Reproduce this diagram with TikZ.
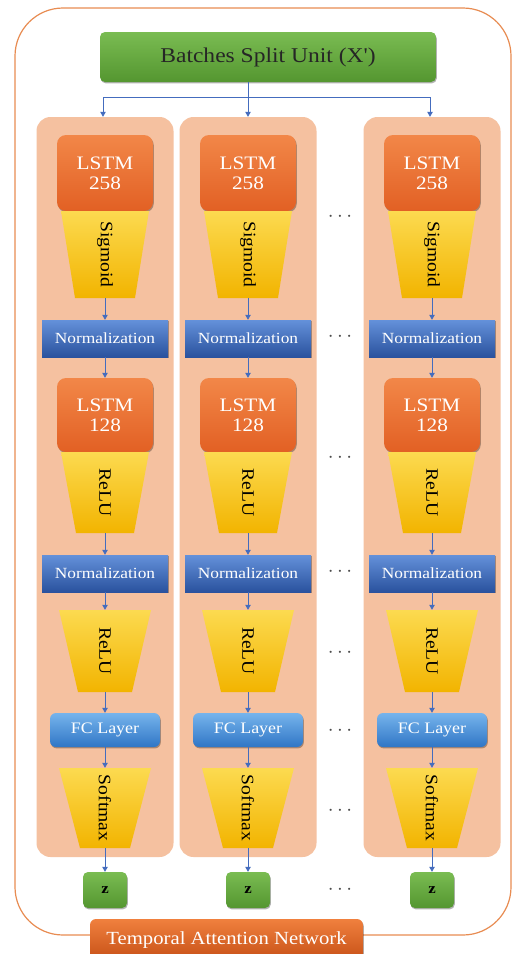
\documentclass[tikz,border=0pt]{standalone}
\usepackage{fontspec}
\setmainfont{Liberation Serif}[FakeStretch=1.12]
\usepackage{graphicx}
\usetikzlibrary{arrows.meta,shadows}
\definecolor{peach}{RGB}{245,193,160}
\definecolor{outerline}{RGB}{232,140,82}
\definecolor{greenT}{RGB}{122,188,82}
\definecolor{greenB}{RGB}{84,150,48}
\definecolor{lstmT}{RGB}{242,135,72}
\definecolor{lstmB}{RGB}{226,96,36}
\definecolor{yelT}{RGB}{252,218,80}
\definecolor{yelB}{RGB}{242,180,0}
\definecolor{normT}{RGB}{100,145,218}
\definecolor{normB}{RGB}{42,82,158}
\definecolor{fcT}{RGB}{118,180,236}
\definecolor{fcB}{RGB}{48,118,198}
\definecolor{arrowblue}{RGB}{68,108,190}
\definecolor{tanT}{RGB}{240,128,62}
\definecolor{tanB}{RGB}{198,80,22}
\begin{document}
\begin{tikzpicture}[x=1pt,y=-1pt,
  shad/.style={drop shadow={shadow xshift=0.8pt,shadow yshift=-1.4pt,opacity=0.3,fill=black}},
  panel/.style={fill=peach,rounded corners=14pt,minimum width=137pt,minimum height=740pt,inner sep=0pt},
  splitbox/.style={shad,rounded corners=5pt,top color=greenT,bottom color=greenB,minimum width=336pt,minimum height=50pt,inner sep=0pt,text=black!85,font=\fontsize{21}{24}\selectfont},
  lstm/.style={shad,rounded corners=9pt,top color=lstmT,bottom color=lstmB,minimum width=96pt,minimum height=76pt,inner sep=0pt,align=center,text=white,font=\fontsize{19}{20}\selectfont},
  yel/.style={top color=yelT,bottom color=yelB},
  trapnode/.style={inner sep=0pt,minimum width=40pt,text=black,font=\fontsize{17.5}{18}\selectfont},
  norm/.style={shad,top color=normT,bottom color=normB,minimum width=126pt,minimum height=37pt,inner sep=0pt,text=white,font=\fontsize{15.5}{17}\selectfont},
  fc/.style={shad,rounded corners=6pt,top color=fcT,bottom color=fcB,minimum width=110pt,minimum height=34pt,inner sep=0pt,text=white,font=\fontsize{16}{17}\selectfont},
  zbox/.style={shad,rounded corners=5pt,top color=greenT,bottom color=greenB,minimum width=44pt,minimum height=36pt,inner sep=0pt,text=black,font=\fontsize{15}{16}\selectfont\bfseries},
  tan/.style={shad,rounded corners=6pt,top color=tanT,bottom color=tanB,minimum width=273pt,minimum height=42pt,inner sep=0pt,text=white,font=\fontsize{18.5}{20}\selectfont},
  dotsnode/.style={inner sep=0pt,text=black!70,font=\fontsize{20}{20}\selectfont},
  line/.style={draw=arrowblue,line width=0.8pt},
  arr/.style={line,-{Triangle[width=5.5pt,length=5pt]}}
]
\useasboundingbox (0,0) rectangle (516,954);
\fill[white] (0,0) rectangle (516,954);
% outer frame
\draw[outerline,line width=1.2pt,rounded corners=48pt] (15,8) rectangle (511,935);

% columns
\foreach \c/\x in {A/105,B/248,C/432}{
  \node[panel] (pan\c) at (\x,487) {};
  \node[lstm] (lstmI\c) at (\x,173) {LSTM\\258};
  \shade[yel] (\x-44,211) -- (\x+44,211) -- (\x+30,298) -- (\x-30,298) -- cycle;
  \node[trapnode,minimum height=87pt] (sig\c) at (\x,254.5) {\rotatebox{-90}{Sigmoid}};
  \node[norm] (normI\c) at (\x,338.5) {Normalization};
  \node[lstm,minimum height=74pt] (lstmII\c) at (\x,415) {LSTM\\128};
  \shade[yel] (\x-44,452) -- (\x+44,452) -- (\x+29,533) -- (\x-29,533) -- cycle;
  \node[trapnode,minimum height=81pt] (reluI\c) at (\x,492.5) {\rotatebox{-90}{ReLU}};
  \node[norm] (normII\c) at (\x,573.5) {Normalization};
  \shade[yel] (\x-46,610) -- (\x+46,610) -- (\x+27,692) -- (\x-27,692) -- cycle;
  \node[trapnode,minimum height=82pt] (reluII\c) at (\x,651) {\rotatebox{-90}{ReLU}};
  \node[fc] (fc\c) at (\x,730) {FC Layer};
  \shade[yel] (\x-46,768) -- (\x+46,768) -- (\x+25,848) -- (\x-25,848) -- cycle;
  \node[trapnode,minimum height=80pt] (soft\c) at (\x,808) {\rotatebox{-90}{Softmax}};
  \node[zbox] (z\c) at (\x,890) {z};
  \draw[arr] (sig\c.south) -- (normI\c.north);
  \draw[arr] (normI\c.south) -- (lstmII\c.north);
  \draw[arr] (reluI\c.south) -- (normII\c.north);
  \draw[arr] (normII\c.south) -- (reluII\c.north);
  \draw[arr] (reluII\c.south) -- (fc\c.north);
  \draw[arr] (fc\c.south) -- (soft\c.north);
  \draw[arr] (soft\c.south) -- (z\c.north);
}

% split unit
\node[splitbox] (split) at (268,57) {Batches Split Unit (X{\addfontfeatures{Ligatures=TeXOff}'})};
\coordinate (bus) at (248,97);
\coordinate (busL) at (103,97);
\coordinate (busR) at (430,97);
\draw[line] (bus |- split.south) -- (bus);
\draw[line] (busL) -- (busR);
\draw[arr] (busL) -- (busL |- panA.north);
\draw[arr] (bus) -- (bus |- panB.north);
\draw[arr] (busR) -- (busR |- panC.north);

% dots
\foreach \n/\y in {1/217,2/337,3/458,4/572,5/653,6/731,7/811,8/890}{
  \node[dotsnode] (dots\n) at (340,\y) {$\cdots$};
}

% bottom label
\node[tan] (tan) at (226.5,940) {Temporal Attention Network};
\end{tikzpicture}
\end{document}
